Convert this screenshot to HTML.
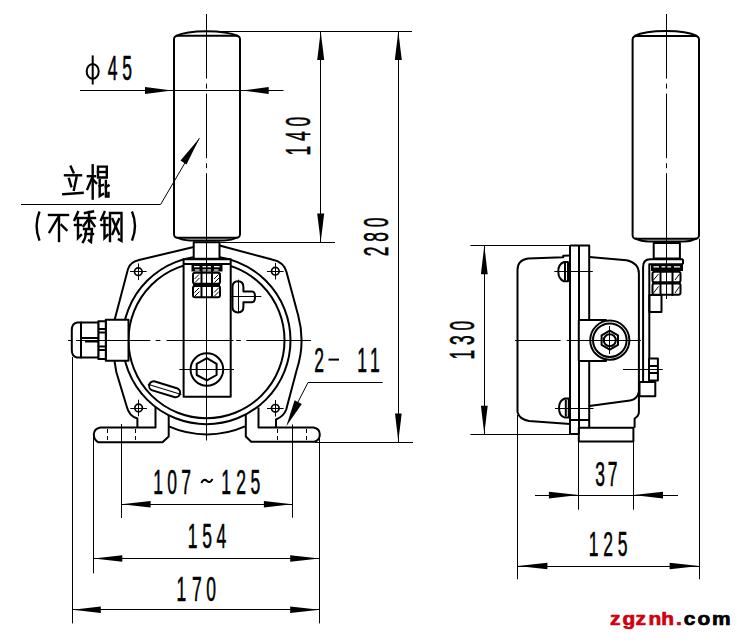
<!DOCTYPE html>
<html><head><meta charset="utf-8">
<style>
html,body{margin:0;padding:0;background:#fff;width:742px;height:642px;overflow:hidden}
svg{display:block}
.k{stroke:#000;stroke-width:2;fill:none;stroke-linecap:butt;stroke-linejoin:round}
.w{stroke:#000;stroke-width:2;fill:#fff;stroke-linejoin:round}
.t{stroke:#000;stroke-width:1;fill:none}
.a{fill:#000;stroke:none}
.d{font-family:"Liberation Sans",sans-serif;font-size:35px;fill:#000;stroke:#000;stroke-width:0.6px;text-anchor:middle}
.c{stroke:#000;stroke-width:2.4;fill:none;stroke-linecap:square;stroke-linejoin:miter}
</style></head>
<body>
<svg width="742" height="642" viewBox="0 0 742 642">

<!-- ================= LEFT VIEW ================= -->
<!-- centre lines -->
<line class="t" x1="206.5" y1="14" x2="206.5" y2="240" stroke-dasharray="64.6 5 5 5"/>
<line class="t" x1="206.5" y1="240" x2="206.5" y2="440.5"/>
<path class="t" d="M68 340.5 H150.3 M155.7 340.5 H160.4 M166.5 340.5 H233.5 M236.2 340.5 H240.9 M246.3 340.5 H311"/>

<!-- rod -->
<path class="k" d="M176 36 C184 32.2 193 31.3 206.5 31.3 C220 31.3 229 32.2 238 36"/>
<rect class="k" x="174" y="35.7" width="66" height="202" rx="3.5"/>
<path class="k" d="M177 237.5 Q182 240.3 190 240.5 L224 240.5 Q232 240.3 237 237.5"/>

<!-- dimension phi45 -->
<line class="t" x1="80" y1="90.5" x2="283.5" y2="90.5"/>
<polygon class="a" points="172,90.5 145,87 145,94"/>
<polygon class="a" points="242,90.5 268.7,87 268.7,94"/>

<!-- top extension line -->
<line class="t" x1="210" y1="31.5" x2="412" y2="31.5"/>
<!-- 140 -->
<line class="t" x1="320.5" y1="31.2" x2="320.5" y2="242"/>
<polygon class="a" points="320.7,31.2 317.2,60 324.2,60"/>
<polygon class="a" points="320.7,242 317.2,213.4 324.2,213.4"/>
<line class="t" x1="220" y1="242.5" x2="335" y2="242.5"/>
<!-- 280 -->
<line class="t" x1="398.5" y1="31.2" x2="398.5" y2="442.3"/>
<polygon class="a" points="398.3,31.2 394.8,60 401.8,60"/>
<polygon class="a" points="398.3,441.5 395,413.4 401.7,413.4"/>
<line class="t" x1="315" y1="442.5" x2="413" y2="442.5"/>

<!-- leader for rod label -->
<polyline class="t" points="21,204.5 160.6,204.5 199.4,138.2"/>
<polygon class="a" points="199.4,138.2 180.5,160.5 186.5,164.5"/>

<!-- housing outer circles -->
<circle class="k" cx="206.5" cy="340.2" r="78"/>
<circle class="k" cx="206.5" cy="340.2" r="84"/>

<!-- housing outline -->
<path class="k" d="M193.7 247 L139 260 Q130 262 128 269 L114.7 319.5"/>
<path class="k" d="M114.5 361 L116.3 372 L126.8 406.7 Q129 416 137.4 418.5 L137.4 428"/>
<path class="k" d="M219.5 245.5 L272 259.5 Q284 262 286.5 272 L298.2 315.4 A95 95 0 0 1 296.7 370 L286.3 409.2 Q284 416 276 419.5 L276 427.6"/>
<!-- bottom arc + feet -->
<path class="k" d="M168.8 426.4 A94.3 94.3 0 0 0 245 426.4"/>
<path class="k" d="M155.5 407 L155.5 427.5 L100.5 427.5 Q94 428.5 93.8 434.5 Q94 440 98.5 442.3 L162.5 442.3 L168.7 436.5 L168.7 415"/>
<path class="k" d="M258.5 407.5 L258.5 427.5 L313.5 427.5 Q319.8 428.5 319.8 434.5 Q319.8 440 314.5 441.7 L251.2 441.7 L245.8 436.5 L245.8 415"/>
<!-- hidden lines in feet -->
<g class="t" stroke-dasharray="4 3">
<line x1="107.5" y1="429" x2="107.5" y2="441"/>
<line x1="135.5" y1="429" x2="135.5" y2="441"/>
<line x1="277.5" y1="429" x2="277.5" y2="441"/>
<line x1="306.5" y1="429" x2="306.5" y2="441"/>
</g>

<!-- mounting holes -->
<g class="t">
<circle cx="138.3" cy="271.7" r="3.8" stroke-width="1.7"/><line x1="130" y1="271.5" x2="146.6" y2="271.5"/><line x1="138.5" y1="263.4" x2="138.5" y2="280"/>
<circle cx="275.3" cy="271.2" r="3.8" stroke-width="1.7"/><line x1="267" y1="271.5" x2="283.6" y2="271.5"/><line x1="275.5" y1="262.9" x2="275.5" y2="279.5"/>
<circle cx="138.6" cy="408" r="3.8" stroke-width="1.7"/><line x1="130.3" y1="408.5" x2="146.9" y2="408.5"/><line x1="138.5" y1="399.7" x2="138.5" y2="416.3"/>
<circle cx="275.3" cy="408.3" r="3.8" stroke-width="1.7"/><line x1="267" y1="408.5" x2="283.6" y2="408.5"/><line x1="275.5" y1="400" x2="275.5" y2="416.6"/>
</g>

<!-- cable gland -->
<rect class="w" x="105.8" y="319.7" width="22.7" height="41"/>
<rect class="w" x="98.3" y="321.3" width="7.5" height="37.7"/>
<g class="k" stroke-width="1.7">
<line x1="98.3" y1="329" x2="105.8" y2="329"/><line x1="98.3" y1="332.5" x2="105.8" y2="332.5"/>
<line x1="98.3" y1="346.5" x2="105.8" y2="346.5"/><line x1="98.3" y1="350" x2="105.8" y2="350"/>
</g>
<rect class="w" x="81" y="322.4" width="17.3" height="35"/>
<path class="w" d="M81 322.4 L77 322.4 Q71.8 323.5 71.8 330 L71.8 350 Q71.8 356.5 77 357.4 L81 357.4 Z"/>
<line class="k" x1="81" y1="338" x2="98.3" y2="338"/>
<line class="k" x1="85" y1="341.5" x2="98.3" y2="341.5" stroke-width="2.6"/>
<path class="t" d="M68 340.5 H70.7 M76.1 340.5 H131"/>

<!-- lever -->
<rect class="w" x="183.6" y="259.3" width="47.1" height="137.5"/>
<line class="t" x1="183" y1="340.5" x2="231" y2="340.5"/>
<line class="t" x1="206.5" y1="259" x2="206.5" y2="397"/>
<line class="k" x1="183.6" y1="264" x2="230.7" y2="264"/>
<!-- neck -->
<rect class="w" x="193.7" y="242.2" width="25.8" height="16.6"/>
<line class="t" x1="206.5" y1="236" x2="206.5" y2="300"/>

<!-- bolt stack -->
<rect class="a" x="191.5" y="264" width="31" height="7.5"/>
<g fill="#fff">
<rect x="194" y="266" width="5.5" height="1.3"/><rect x="202.5" y="266" width="3.5" height="1.3"/><rect x="207.5" y="266" width="3.5" height="1.3"/><rect x="214" y="266" width="5.5" height="1.3"/>
<rect x="195" y="269.4" width="4.5" height="1.2"/><rect x="202.5" y="269.4" width="3.5" height="1.2"/><rect x="207.5" y="269.4" width="3.5" height="1.2"/><rect x="214" y="269.4" width="4.5" height="1.2"/>
</g>
<rect class="w" x="193" y="272.8" width="27" height="11" rx="2" stroke-width="2.2"/>
<rect class="w" x="193" y="286" width="27" height="11.2" rx="2" stroke-width="2.2"/>
<g class="k" stroke-width="2.6">
<line x1="201.5" y1="271" x2="201.5" y2="298"/>
<line x1="212" y1="271" x2="212" y2="298"/>
<line x1="193" y1="285" x2="220" y2="285"/>
</g>
<g class="t" stroke-width="0.9">
<line x1="194.5" y1="279" x2="199" y2="274.5"/><line x1="195" y1="282.5" x2="199.5" y2="278"/>
<line x1="214" y1="279" x2="218.5" y2="274.5"/><line x1="214.5" y1="282.5" x2="219" y2="278"/>
<line x1="194.5" y1="292.5" x2="199" y2="288"/><line x1="195" y1="296" x2="199.5" y2="291.5"/>
<line x1="214" y1="292.5" x2="218.5" y2="288"/><line x1="214.5" y1="296" x2="219" y2="291.5"/>
</g>
<line class="t" x1="206.5" y1="236" x2="206.5" y2="300"/>

<!-- T symbol -->
<path class="k" d="M238 281.3 Q232.5 281.3 232.5 287 L232.5 307 Q232.5 312.4 238 312.4 Q243.4 312.4 243.4 307 L243.4 302.3 L252 302.3 Q255 302.3 255 296.8 Q255 291.4 252 291.4 L243.4 291.4 L243.4 287 Q243.4 281.3 238 281.3 Z"/>
<line class="t" x1="231" y1="296.5" x2="261.3" y2="296.5"/>
<line class="t" x1="238.5" y1="279.7" x2="238.5" y2="313.2"/>

<!-- hex nut -->
<circle class="k" cx="206.9" cy="369.5" r="16.3"/>
<polygon class="k" stroke-width="3.2" points="206.9,358.2 216.6,363.8 216.6,375 206.9,380.4 196.7,375 196.7,363.8"/>
<line class="t" x1="179.3" y1="369.5" x2="234" y2="369.5"/>

<!-- slot -->
<g transform="translate(164.6,389.3) rotate(17)">
<rect class="k" x="-16" y="-4.6" width="32" height="9.2" rx="4.6"/>
<line class="t" x1="-17.5" y1="0" x2="17.5" y2="0" stroke-width="1.1"/>
</g>

<!-- 2-11 leader -->
<polyline class="t" points="382.7,382.5 308,382.5 298,402"/>
<polygon class="a" points="286.3,426.2 294.6,400.3 301.8,404"/>

<!-- bottom dims left -->
<g class="t">
<line x1="121.5" y1="424" x2="121.5" y2="518"/>
<line x1="292.5" y1="424.5" x2="292.5" y2="517.7"/>
<line x1="93.5" y1="436" x2="93.5" y2="573.4"/>
<line x1="319.5" y1="436" x2="319.5" y2="623.4"/>
<line x1="72.5" y1="357" x2="72.5" y2="623.4"/>
<line x1="121.3" y1="504.5" x2="292.2" y2="504.5"/>
<line x1="93.6" y1="558.5" x2="319.6" y2="558.5"/>
<line x1="72.6" y1="609.5" x2="319.6" y2="609.5"/>
</g>
<polygon class="a" points="121.3,504.3 150.6,501 150.6,507.6"/>
<polygon class="a" points="292.2,504.3 263.9,501 263.9,507.6"/>
<polygon class="a" points="93.6,558.5 122.3,555.2 122.3,561.8"/>
<polygon class="a" points="319.6,558.5 290.2,555.2 290.2,561.8"/>
<polygon class="a" points="72.6,609.8 100.8,606.5 100.8,613.1"/>
<polygon class="a" points="319.6,609.8 290.2,606.5 290.2,613.1"/>

<!-- ================= RIGHT VIEW ================= -->
<line class="t" x1="666.5" y1="14" x2="666.5" y2="299" stroke-dasharray="64.6 5 5 5"/>
<path class="k" d="M634.5 36 C642.5 32 651.5 31 666 31 C680.5 31 689 32 697 36"/>
<rect class="k" x="632.6" y="35.9" width="66.4" height="202.8" rx="3.5"/>
<path class="k" d="M635.5 238.5 Q641 241.3 649 241.5 L684 241.5 Q691 241.3 696.5 238.5"/>
<rect class="w" x="653.7" y="243" width="26.2" height="15.6"/>

<!-- 130 dim -->
<g class="t">
<line x1="470.4" y1="245.5" x2="589.2" y2="245.5"/>
<line x1="470.4" y1="434.5" x2="570" y2="434.5"/>
<line x1="484.5" y1="245.5" x2="484.5" y2="434.5"/>
<path d="M515 340.5 H560.6 M566.7 340.5 H641"/>
<line x1="517.5" y1="415" x2="517.5" y2="579.3"/>
<line x1="699.5" y1="238.7" x2="699.5" y2="579.3"/>
<line x1="578.5" y1="441.6" x2="578.5" y2="509.7"/>
<line x1="633.5" y1="441.6" x2="633.5" y2="509.7"/>
<line x1="535" y1="495.5" x2="678" y2="495.5"/>
<line x1="517.8" y1="566.5" x2="699.2" y2="566.5"/>
</g>
<polygon class="a" points="484.3,245.5 480.9,274.3 487.7,274.3"/>
<polygon class="a" points="484.3,434 480.9,405.7 487.7,405.7"/>
<polygon class="a" points="578.6,495.1 548.9,491.8 548.9,498.4"/>
<polygon class="a" points="633.4,495.1 663,491.8 663,498.4"/>
<polygon class="a" points="517.8,566 547.4,562.7 547.4,569.3"/>
<polygon class="a" points="699.2,566 669.6,562.7 669.6,569.3"/>

<!-- back cover -->
<path class="k" d="M570.2 255.6 L563.2 255.7 L563.2 257.2 L528 258.5 Q517.5 260 517.5 270 L517.5 412 Q519 419 529 421 L570.2 423.9"/>
<!-- flange -->
<path class="k" d="M570.2 245.5 L589.2 245.5 L589.2 320"/>
<line class="k" x1="570" y1="245.5" x2="570" y2="434.3"/>
<line class="k" x1="579" y1="245.5" x2="579" y2="434.3"/>
<line class="k" x1="570.2" y1="434" x2="578.8" y2="434"/>
<path class="k" d="M589.2 361 L589.2 427"/>
<line class="k" x1="570.2" y1="420" x2="589.2" y2="420"/>
<!-- front housing -->
<path class="k" d="M589.2 256.9 L626.6 260.2 Q638.9 263 638.9 273.4 L638.9 412 Q638.9 416 634.6 418.5 L634.6 427.7"/>
<path class="k" d="M589.2 406 L630 400.5 Q637 399.5 638.9 392"/>
<rect class="k" x="578.8" y="427.7" width="54.6" height="13.9"/>
<!-- screws -->
<g>
<path class="k" d="M568 262 L564 262 Q558.3 264 558.3 271.6 Q558.3 279.5 564 281.3 L568 281.3 Z"/>
<line class="k" x1="565" y1="263" x2="565" y2="280.5" stroke-width="2.5"/>
<line class="t" x1="554.3" y1="271.5" x2="592.8" y2="271.5"/>
<path class="k" d="M568.8 398.5 L564.8 398.5 Q559 400.5 559 408 Q559 416 564.8 417.6 L568.8 417.6 Z"/>
<line class="k" x1="565.8" y1="399.5" x2="565.8" y2="416.6" stroke-width="2.5"/>
<line class="t" x1="555" y1="408.5" x2="593.5" y2="408.5"/>
</g>
<!-- gland box + nut -->
<path class="w" d="M578.8 320 L606 320 L606 361 L578.8 361 Z"/>
<circle class="w" cx="609.8" cy="340.2" r="19.6" stroke-width="2.8"/>
<circle class="k" cx="609.8" cy="340.2" r="16.8" stroke-width="2"/>
<polygon class="k" stroke-width="3.8" points="609.8,349.7 601.6,344.9 601.6,335.4 609.8,330.7 618.0,335.4 618.0,344.9"/>
<circle class="k" cx="609.8" cy="340.2" r="6" stroke-width="2"/>
<line class="t" x1="570" y1="340.5" x2="641" y2="340.5"/>
<line class="t" x1="609.5" y1="326" x2="609.5" y2="354"/>

<!-- bracket -->
<path class="k" d="M683 259.3 L650 259.3 Q643.1 259.3 643.1 267 L643.1 382"/>
<path class="k" d="M683 264.2 L649.3 264.2 L649.3 382"/>
<line class="k" x1="683" y1="259.3" x2="683" y2="264.2"/>
<rect class="w" x="639.5" y="382" width="15.8" height="14.2"/>
<rect class="w" x="649" y="358.5" width="8.9" height="21.9"/>
<line class="k" x1="649" y1="366" x2="657.9" y2="366"/>
<line class="k" x1="649" y1="373" x2="657.9" y2="373"/>
<line class="t" x1="623" y1="369.5" x2="662.7" y2="369.5"/>
<!-- bracket nut stack -->
<rect class="a" x="651" y="264.2" width="32" height="6.8"/>
<g fill="#fff">
<rect x="653.5" y="266.2" width="5.5" height="1.3"/><rect x="661.5" y="266.2" width="3.8" height="1.3"/><rect x="667.3" y="266.2" width="3.8" height="1.3"/><rect x="674" y="266.2" width="6" height="1.3"/>
</g>
<rect class="w" x="652.5" y="271.7" width="28" height="10.6" rx="2"/>
<rect class="w" x="652.5" y="283.6" width="28" height="11.2" rx="2"/>
<g class="k" stroke-width="2.6">
<line x1="660.5" y1="270" x2="660.5" y2="296"/>
<line x1="672.5" y1="270" x2="672.5" y2="296"/>
<line x1="652.5" y1="283" x2="680.5" y2="283"/>
</g>
<g class="t" stroke-width="1">
<line x1="653.5" y1="280" x2="658.5" y2="274"/>
<line x1="675" y1="280" x2="679.5" y2="274"/>
<line x1="653.5" y1="293" x2="658.5" y2="286.5"/>
<line x1="675" y1="293" x2="679.5" y2="286.5"/>
</g>
<rect class="k" x="649.3" y="295" width="12.2" height="17"/>
<line class="t" x1="666.5" y1="236" x2="666.5" y2="299"/>

<!-- ================= TEXT ================= -->
<!-- phi45 -->
<g class="k" stroke-width="2">
<ellipse cx="92.7" cy="71.4" rx="6" ry="7.4"/>
</g>
<line class="k" x1="92.7" y1="55.4" x2="92.7" y2="84.5" stroke-width="2.6"/>
<text class="d" transform="translate(112.5,79.5) scale(0.5,1)">4</text>
<text class="d" transform="translate(127,79.5) scale(0.5,1)">5</text>

<!-- 140 rotated -->
<g transform="translate(310.4,136.1) rotate(-90)">
<text class="d" transform="translate(-14.5,0) scale(0.5,1)">1</text>
<text class="d" transform="translate(0,0) scale(0.5,1)">4</text>
<text class="d" transform="translate(14.5,0) scale(0.5,1)">0</text>
</g>
<!-- 280 rotated -->
<g transform="translate(388.2,237) rotate(-90)">
<text class="d" transform="translate(-14.5,0) scale(0.5,1)">2</text>
<text class="d" transform="translate(0,0) scale(0.5,1)">8</text>
<text class="d" transform="translate(14.5,0) scale(0.5,1)">0</text>
</g>
<!-- 130 rotated -->
<g transform="translate(473.8,340.2) rotate(-90)">
<text class="d" transform="translate(-14.5,0) scale(0.5,1)">1</text>
<text class="d" transform="translate(0,0) scale(0.5,1)">3</text>
<text class="d" transform="translate(14.5,0) scale(0.5,1)">0</text>
</g>
<!-- 2-11 -->
<text class="d" transform="translate(319,371.5) scale(0.5,1)">2</text>
<line class="k" x1="328.5" y1="359.6" x2="339" y2="359.6" stroke-width="2.2"/>
<text class="d" transform="translate(362.2,371.5) scale(0.5,1)">1</text>
<text class="d" transform="translate(374.8,371.5) scale(0.5,1)">1</text>
<!-- 107~125 -->
<text class="d" transform="translate(158,493.7) scale(0.5,1)">1</text>
<text class="d" transform="translate(172,493.7) scale(0.5,1)">0</text>
<text class="d" transform="translate(186,493.7) scale(0.5,1)">7</text>
<path class="k" d="M201.3 483 Q203.8 478 207 481 Q210 483.8 212.5 479" stroke-width="2.6"/>
<text class="d" transform="translate(226,493.7) scale(0.5,1)">1</text>
<text class="d" transform="translate(241,493.7) scale(0.5,1)">2</text>
<text class="d" transform="translate(255.3,493.7) scale(0.5,1)">5</text>
<!-- 154 -->
<text class="d" transform="translate(192.5,548.4) scale(0.5,1)">1</text>
<text class="d" transform="translate(207,548.4) scale(0.5,1)">5</text>
<text class="d" transform="translate(221.3,548.4) scale(0.5,1)">4</text>
<!-- 170 -->
<text class="d" transform="translate(181.4,600.7) scale(0.5,1)">1</text>
<text class="d" transform="translate(196.8,600.7) scale(0.5,1)">7</text>
<text class="d" transform="translate(211,600.7) scale(0.5,1)">0</text>
<!-- 37 -->
<text class="d" transform="translate(600,486) scale(0.5,1)">3</text>
<text class="d" transform="translate(612.6,486) scale(0.5,1)">7</text>
<!-- 125 right -->
<text class="d" transform="translate(593.5,555.6) scale(0.5,1)">1</text>
<text class="d" transform="translate(608,555.6) scale(0.5,1)">2</text>
<text class="d" transform="translate(622.5,555.6) scale(0.5,1)">5</text>

<!-- Chinese: 立棍 -->
<g class="c">
<path d="M70.8 166.6 L73.4 172.3"/>
<path d="M65 175.3 L81 175.3"/>
<path d="M69 178.9 L71.2 186.3"/>
<path d="M76.5 177.5 L73.9 189.8"/>
<path d="M63.3 194.2 L82.6 192.9"/>
<path d="M87.9 176.2 L95 176.2"/>
<path d="M92.7 165.3 L92.7 198.6"/>
<path d="M92 178 L87.4 189"/>
<path d="M93.5 180 L96.2 183"/>
<path d="M98 166.6 L106.8 166.6 L106.8 177.5 L98 177.5 Z"/>
<path d="M98 172 L106.8 172"/>
<path d="M99.7 180 L99.7 196 L103 194"/>
<path d="M99.7 186 L103 185"/>
<path d="M105.9 181 L105.9 196.5 L108.5 196.5 L108.5 193"/>
<path d="M105.9 187 L108.5 185.5"/>
</g>
<!-- (不锈钢) -->
<g class="c">
<path d="M39.5 211.5 Q33.7 226 39.5 240.6" stroke-linecap="butt"/>
<path d="M132 211.5 Q138 226 132 240.6" stroke-linecap="butt"/>
<path d="M49 215 L68 215"/>
<path d="M59 216 L59 241"/>
<path d="M58.5 217 L49.5 232"/>
<path d="M61.5 225 L66.5 230"/>
<!-- 锈 -->
<path d="M78 212 L74.5 220"/>
<path d="M76 218 L81 218"/>
<path d="M75 225 L81 225"/>
<path d="M78 219 L78 238 L81 235"/>
<path d="M85 213 L93 211.5"/>
<path d="M83 218 L95 218"/>
<path d="M89 212 L89 227"/>
<path d="M88.5 219 L83.5 226"/>
<path d="M89.5 219 L94.5 226"/>
<path d="M84 229 L92 229 L91 242 L89 240.5"/>
<path d="M86 230 Q86 238 83 242"/>
<path d="M85.5 234 L93 234"/>
<!-- 钢 -->
<path d="M104.5 212 L101 220"/>
<path d="M102.5 218 L107.5 218"/>
<path d="M101.5 225 L107.5 225"/>
<path d="M104.5 219 L104.5 238 L107.5 235"/>
<path d="M110 241 L110 213 L121.5 213 L121.5 241 L119 239.5"/>
<path d="M112.5 219 L119 234"/>
<path d="M119 219 L112.5 234"/>
</g>

<!-- watermark -->
<g style="font-family:'Liberation Sans',sans-serif;font-weight:bold;font-size:19px;stroke-width:0.7px">
<text transform="translate(610.1,625) scale(1.1,1)" fill="#d00010" stroke="#d00010">z</text>
<text transform="translate(622.5,625) scale(1.1,1)" fill="#d00010" stroke="#d00010">g</text>
<text transform="translate(635.5,625) scale(1.1,1)" fill="#d00010" stroke="#d00010">z</text>
<text transform="translate(648.4,625) scale(1.1,1)" fill="#d00010" stroke="#d00010">n</text>
<text transform="translate(661.3,625) scale(1.1,1)" fill="#d00010" stroke="#d00010">h</text>
<text transform="translate(675.9,625) scale(1.1,1)" fill="#d00010" stroke="#d00010">.</text>
<text transform="translate(683.8,625) scale(1.1,1)" fill="#000" stroke="#000">c</text>
<text transform="translate(697.4,625) scale(1.1,1)" fill="#000" stroke="#000">o</text>
<text transform="translate(711.9,625) scale(1.1,1)" fill="#000" stroke="#000">m</text>
</g>

</svg>
</body></html>
